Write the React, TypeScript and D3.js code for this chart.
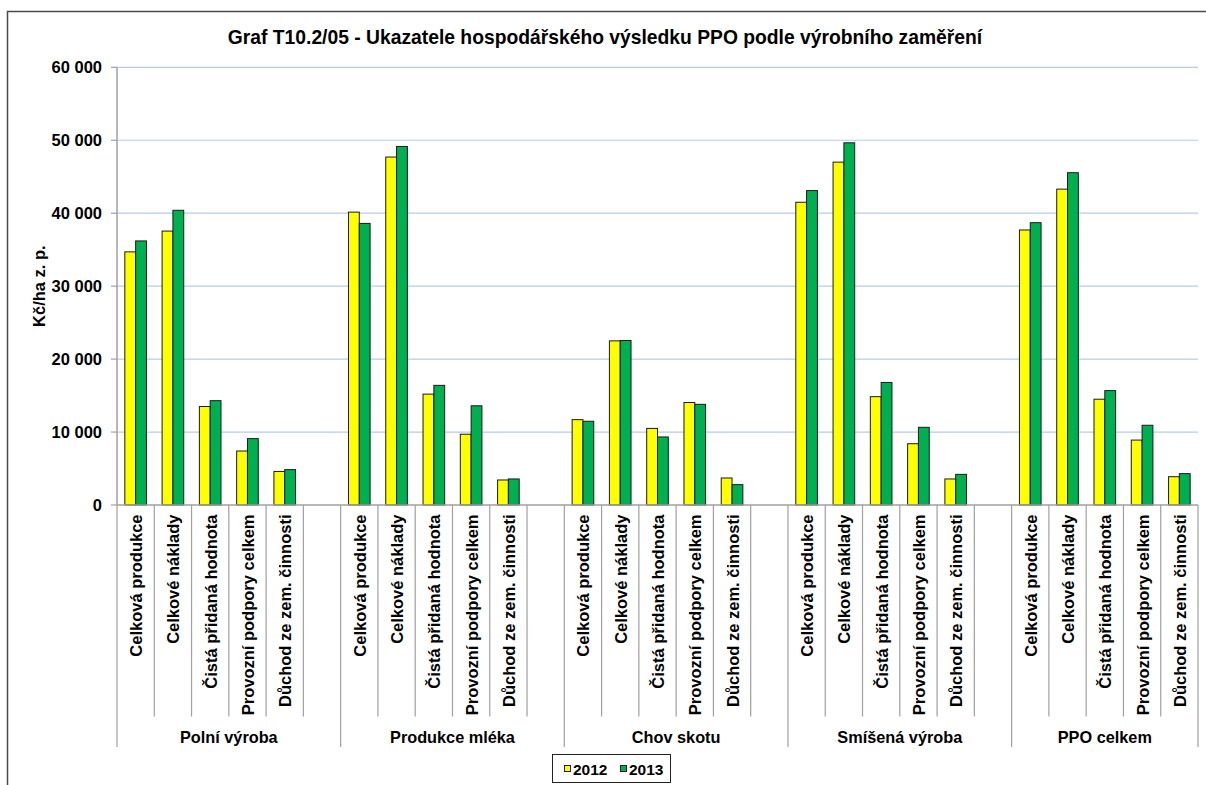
import React from 'react';
import * as d3 from 'd3';

const width = 1206;
const height = 785;

const title = 'Graf T10.2/05 - Ukazatele hospodářského výsledku PPO podle výrobního zaměření';
const yTitle = 'Kč/ha z. p.';

const groups = ['Polní výroba', 'Produkce mléka', 'Chov skotu', 'Smíšená výroba', 'PPO celkem'];
const indicators = [
  'Celková produkce',
  'Celkové náklady',
  'Čistá přidaná hodnota',
  'Provozní podpory celkem',
  'Důchod ze zem. činnosti',
];
const years = ['2012', '2013'];

// values per group, in order of indicators
const values2012 = [
  [34700, 37550, 13500, 7400, 4600],
  [40150, 47700, 15200, 9700, 3430],
  [11700, 22500, 10500, 14050, 3700],
  [41500, 47000, 14850, 8400, 3570],
  [37700, 43300, 14500, 8900, 3880],
];
const values2013 = [
  [36200, 40400, 14300, 9100, 4850],
  [38600, 49150, 16400, 13600, 3570],
  [11480, 22550, 9330, 13800, 2790],
  [43100, 49650, 16800, 10650, 4200],
  [38700, 45550, 15680, 10930, 4300],
];
const yTicks = [0, 10000, 20000, 30000, 40000, 50000, 60000];

const colors = ['#ffff00', '#00b050'];
const fontFamily = '"Liberation Sans", Arial, sans-serif';

const plot = { left: 117, right: 1198, top: 67.3, bottom: 505 };

const fmt = d3
  .formatLocale({ decimal: ',', thousands: ' ', grouping: [3], currency: ['', ''] })
  .format(',d');

export default function App() {
  // slots: 5 indicators + a gap after each group except the last
  const slots: string[] = [];
  groups.forEach((g, gi) => {
    indicators.forEach((_, ii) => slots.push(`${gi}-${ii}`));
    if (gi < groups.length - 1) slots.push(`gap-${gi}`);
  });

  const x = d3.scaleBand<string>().domain(slots).range([plot.left, plot.right]).paddingInner(0).paddingOuter(0);
  const bw = x.bandwidth() * 0.29;
  const x1 = d3.scaleBand<string>().domain(years).range([0, bw * 2]);
  const y = d3.scaleLinear().domain([0, 60000]).range([plot.bottom, plot.top]);

  const series = [values2012, values2013];

  const slotLineY = 716.5;
  const groupLineY = 747;

  return (
    <svg width={width} height={height} style={{ position: 'absolute', left: 0, top: 0, background: '#fff' }}>
      <rect x={7.5} y={11.5} width={1220} height={800} fill="#fff" stroke="#4a4a4a" strokeWidth={1.5} />

      <text x={605} y={43.5} textAnchor="middle" fontFamily={fontFamily} fontWeight="bold" fontSize={19.3} fill="#000">
        {title}
      </text>

      {/* grid */}
      {yTicks.slice(1).map((t) => (
        <line key={t} x1={plot.left} x2={plot.right} y1={y(t)} y2={y(t)} stroke="#b9cbe9" strokeWidth={1.2} />
      ))}

      {/* y axis */}
      <line x1={plot.left} x2={plot.left} y1={plot.top} y2={plot.bottom} stroke="#a0a0a0" strokeWidth={1.5} />
      {yTicks.map((t) => (
        <g key={t}>
          <line x1={plot.left - 6} x2={plot.left} y1={y(t)} y2={y(t)} stroke="#a0a0a0" strokeWidth={1.2} />
          <text
            x={102}
            y={y(t)}
            dy="0.36em"
            textAnchor="end"
            fontFamily={fontFamily}
            fontWeight="bold"
            fontSize={16.5}
            fill="#000"
          >
            {fmt(t)}
          </text>
        </g>
      ))}
      <text
        transform={`translate(44.5,${(plot.top + plot.bottom) / 2}) rotate(-90)`}
        textAnchor="middle"
        fontFamily={fontFamily}
        fontWeight="bold"
        fontSize={16.5}
        fill="#000"
      >
        {yTitle}
      </text>

      {/* bars */}
      {groups.map((g, gi) =>
        indicators.map((ind, ii) => {
          const key = `${gi}-${ii}`;
          const cx = (x(key) as number) + x.bandwidth() / 2;
          return (
            <g key={key}>
              {years.map((yr, si) => {
                const v = series[si][gi][ii];
                return (
                  <rect
                    key={yr}
                    x={cx - bw + (x1(yr) as number)}
                    y={y(v)}
                    width={x1.bandwidth()}
                    height={y(0) - y(v)}
                    fill={colors[si]}
                    stroke="#1a1a1a"
                    strokeWidth={1}
                  />
                );
              })}
            </g>
          );
        })
      )}

      {/* x axis */}
      <line x1={plot.left} x2={plot.right} y1={plot.bottom} y2={plot.bottom} stroke="#a0a0a0" strokeWidth={1.5} />
      {slots.map((s, i) => {
        const xs = x(s) as number;
        const isGroupStart = i === 0 || (s.endsWith('-0') && !s.startsWith('gap'));
        return (
          <line
            key={s}
            x1={xs}
            x2={xs}
            y1={plot.bottom}
            y2={isGroupStart ? groupLineY : slotLineY}
            stroke="#a0a0a0"
            strokeWidth={1.2}
          />
        );
      })}
      <line x1={plot.right} x2={plot.right} y1={plot.bottom} y2={groupLineY} stroke="#a0a0a0" strokeWidth={1.2} />

      {groups.map((g, gi) =>
        indicators.map((ind, ii) => {
          const key = `${gi}-${ii}`;
          const cx = (x(key) as number) + x.bandwidth() / 2;
          return (
            <text
              key={key}
              transform={`translate(${cx + 0.5},514.5) rotate(-90)`}
              textAnchor="end"
              dy="0.36em"
              fontFamily={fontFamily}
              fontWeight="bold"
              fontSize={16.5}
              fill="#000"
            >
              {ind}
            </text>
          );
        })
      )}

      {groups.map((g, gi) => {
        const first = x(`${gi}-0`) as number;
        const last = (x(`${gi}-${indicators.length - 1}`) as number) + x.bandwidth();
        const end = gi < groups.length - 1 ? (x(`gap-${gi}`) as number) + x.bandwidth() : last;
        return (
          <text
            key={g}
            x={(first + end) / 2}
            y={742.5}
            textAnchor="middle"
            fontFamily={fontFamily}
            fontWeight="bold"
            fontSize={16.3}
            fill="#000"
          >
            {g}
          </text>
        );
      })}

      {/* legend */}
      <rect x={552.5} y={754.5} width={118} height={28} fill="#fff" stroke="#222" strokeWidth={1} />
      {years.map((yr, si) => (
        <g key={yr} transform={`translate(${564 + si * 56},0)`}>
          <rect x={0.5} y={765.5} width={6} height={6} fill={colors[si]} stroke="#222" strokeWidth={1} />
          <text x={9} y={774.5} fontFamily={fontFamily} fontWeight="bold" fontSize={15.5} fill="#000">
            {yr}
          </text>
        </g>
      ))}
    </svg>
  );
}
